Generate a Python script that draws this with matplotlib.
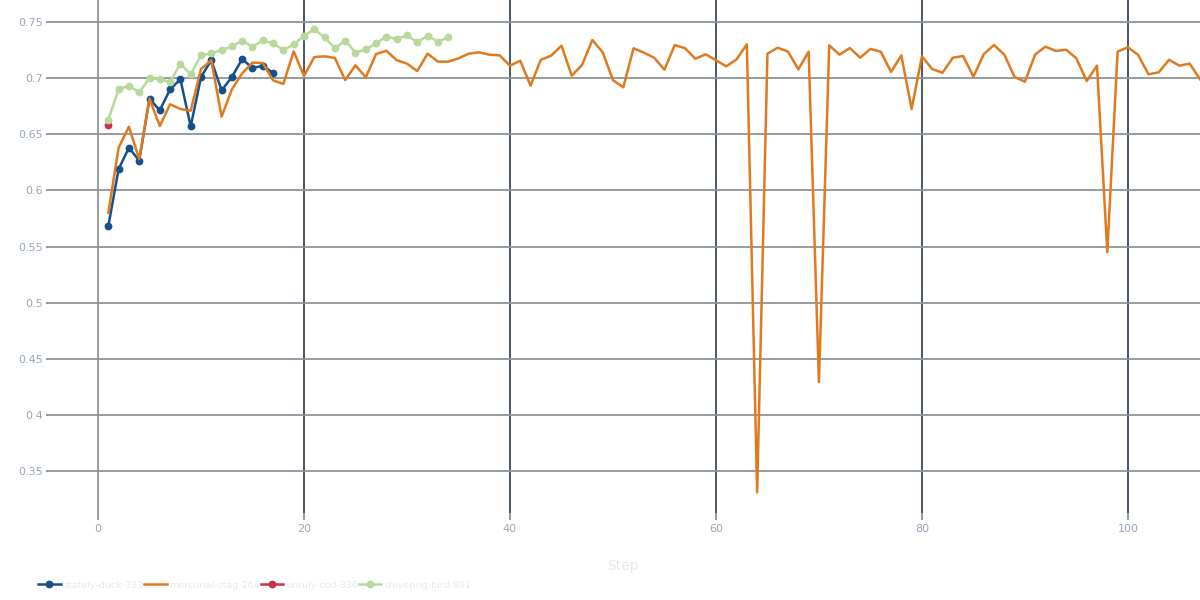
import matplotlib
matplotlib.use("Agg")
import matplotlib.pyplot as plt
import numpy as np

# ---- data ----
duck_steps = list(range(1, 18))
duck_vals = [0.568, 0.619, 0.638, 0.6265, 0.6817, 0.6713, 0.690, 0.699, 0.657,
             0.701, 0.716, 0.689, 0.701, 0.717, 0.709, 0.711, 0.7046]

stag_steps = list(range(1, 108))
stag_vals = [
    0.580, 0.638, 0.6567, 0.628, 0.6817, 0.6573, 0.6767, 0.6725, 0.671, 0.7081,   # 1-10
    0.716, 0.6657, 0.690, 0.7043, 0.7138, 0.7135, 0.698, 0.6948, 0.7239, 0.7019,  # 11-20
    0.7188, 0.7194, 0.718, 0.6983, 0.7114, 0.7007, 0.7215, 0.7244, 0.716, 0.7129, # 21-30
    0.7063, 0.7218, 0.7147, 0.7147, 0.7176, 0.7218, 0.723, 0.7209, 0.7203, 0.7111,# 31-40
    0.7155, 0.6933, 0.7164, 0.720, 0.7289, 0.7022, 0.7117, 0.734, 0.723, 0.6983,  # 41-50
    0.6918, 0.7266, 0.7227, 0.7182, 0.7075, 0.7295, 0.7266, 0.7173, 0.7212, 0.716,# 51-60
    0.7105, 0.7167, 0.7301, 0.331, 0.7218, 0.7271, 0.7236, 0.7078, 0.7236, 0.4293,# 61-70
    0.7292, 0.7209, 0.7268, 0.7182, 0.726, 0.7236, 0.7055, 0.7203, 0.6725, 0.7194,# 71-80
    0.7081, 0.7048, 0.7182, 0.7197, 0.7013, 0.7212, 0.7295, 0.7209, 0.701, 0.6968,# 81-90
    0.7212, 0.728, 0.7242, 0.7253, 0.7176, 0.6974, 0.7111, 0.545, 0.7236, 0.7275, # 91-100
    0.7206, 0.7034, 0.7052, 0.7164, 0.7111, 0.7129, 0.699                          # 101-107
]

cod_steps = [1]
cod_vals = [0.6582]

bird_steps = list(range(1, 35))
bird_vals = [0.663, 0.690, 0.6933, 0.6873, 0.7001, 0.699, 0.6965, 0.7129, 0.7034, 0.7203,
             0.722, 0.725, 0.7283, 0.7334, 0.728, 0.7336, 0.731, 0.725, 0.730, 0.7378,
             0.7435, 0.7363, 0.7266, 0.7334, 0.7227, 0.7257, 0.731, 0.737, 0.7349, 0.7381,
             0.7319, 0.7378, 0.7325, 0.7363]

series_names = ["stately-duck-383", "mercurial-stag-264", "unruly-cod-836", "shivering-bird-891"]
x_ticks = [0, 20, 40, 60, 80, 100]
y_ticks = [0.35, 0.4, 0.45, 0.5, 0.55, 0.6, 0.65, 0.7, 0.75]
y_ticklabels = ["0.35", "0.4", "0.45", "0.5", "0.55", "0.6", "0.65", "0.7", "0.75"]

# ---- style ----
BLUE = "#15508a"
ORANGE = "#e07a1f"
RED = "#c9304a"
GREEN = "#b7d99b"
TICK_COL = "#97a6ba"
FAINT = "#e4e8ee"
HGRID = "#8e9399"
VGRID = "#3e4b5b"

plt.rcParams["font.family"] = ["DejaVu Sans"]

fig = plt.figure(figsize=(12, 6), dpi=100)
ax = fig.add_axes([53 / 1200, 87 / 600, 1147 / 1200, 513 / 600])

ax.plot(duck_steps, duck_vals, color=BLUE, lw=1.8, marker="o", ms=4.6, label=series_names[0], zorder=3)
ax.plot(stag_steps, stag_vals, color=ORANGE, lw=1.8, label=series_names[1], zorder=4)
ax.plot(cod_steps, cod_vals, color=RED, lw=1.8, marker="o", ms=4.6, label=series_names[2], zorder=5)
ax.plot(bird_steps, bird_vals, color=GREEN, lw=1.8, marker="o", ms=4.6, label=series_names[3], zorder=6)

ax.set_xlim(-4.37, 107.0)
ax.set_ylim(0.3126, 0.7696)
ax.set_xticks(x_ticks)
ax.set_yticks(y_ticks)
ax.set_yticklabels(y_ticklabels)

for s in ax.spines.values():
    s.set_visible(False)

ax.set_axisbelow(True)
ax.grid(axis="y", color=HGRID, lw=1.3)
ax.grid(axis="x", color=VGRID, lw=1.3)
for tick_val, gl in zip(x_ticks, ax.xaxis.get_gridlines()):
    if tick_val == 0:
        gl.set_color(HGRID)

ax.tick_params(axis="both", length=5, width=1.3, color=HGRID, labelcolor=TICK_COL,
               labelsize=8, pad=2)
ax.tick_params(axis="x", pad=3)

ax.set_xlabel("Step", color=FAINT, fontsize=10)
ax.xaxis.set_label_coords(0.497, -0.09)

handles, labels = ax.get_legend_handles_labels()
leg = fig.legend(handles, labels, loc="center left", bbox_to_anchor=(38 / 1200, 15 / 600),
                 ncol=4, frameon=False, fontsize=6.8, handlelength=2.4, handletextpad=0.3,
                 columnspacing=0.05, borderpad=0, borderaxespad=0)
for t in leg.get_texts():
    t.set_color(FAINT)

fig.savefig("out.png", dpi=100)
